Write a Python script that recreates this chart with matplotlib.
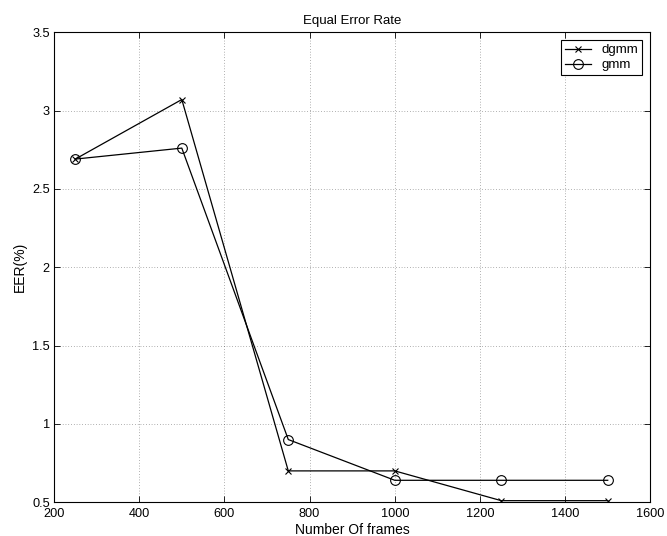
import numpy as np
import matplotlib
matplotlib.use("Agg")
import matplotlib.pyplot as plt

plt.rcParams['font.family'] = ['Liberation Sans', 'DejaVu Sans']

# data
frames = [250, 500, 750, 1000, 1250, 1500]
eer_dgmm = [2.69, 3.07, 0.70, 0.70, 0.51, 0.51]
eer_gmm = [2.69, 2.76, 0.90, 0.64, 0.64, 0.64]

fig = plt.figure(figsize=(6.67, 5.36), dpi=100)
ax = fig.add_axes([0.081, 0.063, 0.894, 0.877])

ax.plot(frames, eer_dgmm, color='black', lw=0.9, marker='x', ms=4.5,
        mew=0.8, label='dgmm')
ax.plot(frames, eer_gmm, color='black', lw=0.9, marker='o', ms=7,
        mfc='none', mew=0.8, label='gmm')

ax.set_xlim(200, 1600)
ax.set_ylim(0.5, 3.5)
ax.set_xticks(np.arange(200, 1601, 200))
ax.set_yticks([0.5, 1, 1.5, 2, 2.5, 3, 3.5])
ax.set_yticklabels(['0.5', '1', '1.5', '2', '2.5', '3', '3.5'])
ax.grid(True, ls=(0, (1, 3)), color='black', lw=0.5, alpha=0.6)
ax.tick_params(direction='in', top=True, right=True, labelsize=9.2,
               length=4, width=0.6)
ax.tick_params(axis='x', pad=4.5)
ax.tick_params(axis='y', pad=3)
for s in ax.spines.values():
    s.set_linewidth(0.8)

ax.set_title('Equal Error Rate', fontsize=9.5, pad=6)
ax.set_xlabel('Number Of frames', fontsize=10, labelpad=1.5)
ax.set_ylabel('EER(%)', fontsize=10, labelpad=4)

leg = ax.legend(loc='upper right', fontsize=9.5, fancybox=False,
                edgecolor='black', framealpha=1, handlelength=2.0,
                borderaxespad=0.6, borderpad=0.3, labelspacing=0.2)
leg.get_frame().set_linewidth(0.8)

fig.savefig('out.png', dpi=100)
